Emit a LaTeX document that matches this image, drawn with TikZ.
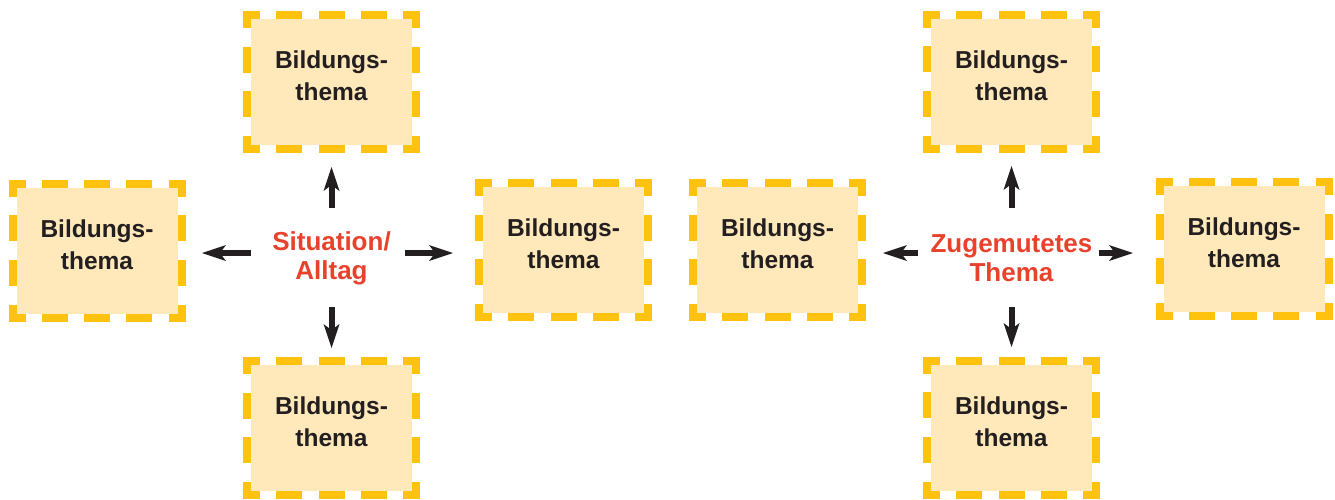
\documentclass[tikz,border=0pt]{standalone}
\usepackage{fontspec}
\setmainfont{Liberation Sans}
\usetikzlibrary{arrows.meta}
\definecolor{boxfill}{HTML}{FFE8BA}
\definecolor{boxdash}{HTML}{FFC20E}
\definecolor{darktext}{HTML}{231F20}
\definecolor{redtext}{HTML}{E8412C}
\tikzset{
  bbox/.style={fill=boxfill, minimum width=161pt, minimum height=126pt, inner sep=0pt, outer sep=0pt},
  btext/.style={align=center, text=darktext, inner sep=0pt, font=\fontsize{24.5}{32}\selectfont\bfseries},
  hubtext/.style={align=center, text=redtext, inner sep=0pt, font=\fontsize{26}{29}\selectfont\bfseries},
  dashH/.style={draw=boxdash, line width=8pt, dash pattern=on 26pt off 16.25pt, dash phase=9pt},
  dashV/.style={draw=boxdash, line width=8pt, dash pattern=on 26pt off 18.67pt, dash phase=9pt},
  arr/.style={draw=darktext, line width=6pt, -{Stealth[length=24pt,width=16pt,inset=6pt,line width=0pt]}},
}
\newcommand\bframe[1]{%
  \draw[dashH] ([shift={(-8pt,4pt)}]#1.north west) -- ([shift={(8pt,4pt)}]#1.north east);
  \draw[dashH] ([shift={(-8pt,-4pt)}]#1.south west) -- ([shift={(8pt,-4pt)}]#1.south east);
  \draw[dashV] ([shift={(-4pt,8pt)}]#1.north west) -- ([shift={(-4pt,-8pt)}]#1.south west);
  \draw[dashV] ([shift={(4pt,8pt)}]#1.north east) -- ([shift={(4pt,-8pt)}]#1.south east);
}
\newcommand\bthema[2]{%
  \node[bbox] (#1) at #2 {};
  \bframe{#1}
  \node[btext] (t#1) at ([yshift=6pt]#1.center) {Bildungs-\\thema};
}
\begin{document}
\begin{tikzpicture}[x=1pt,y=-1pt]
\useasboundingbox (0,0) rectangle (1335,499);
% left group
\bthema{b1}{(331.5,82)}
\bthema{b2}{(97,250.5)}
\bthema{b3}{(563.5,250)}
\bthema{b4}{(331.5,428)}
\node[hubtext] (c1) at (331.5,258) {Situation/\\Alltag};
\draw[arr, shorten <=50pt, shorten >=22pt] (c1.center) -- (b1.south);
\draw[arr, shorten <=49pt, shorten >=17pt] (c1.center) -- (b4.north);
\draw[arr, shorten <=80.5pt, shorten >=24.5pt] ([yshift=5pt]c1.center) -- ([yshift=-2.5pt]b2.east);
\draw[arr, shorten <=73.5pt, shorten >=30pt] ([yshift=5pt]c1.center) -- ([yshift=-3pt]b3.west);
% right group
\bthema{b5}{(777.5,250)}
\bthema{b6}{(1011.5,81.5)}
\bthema{b7}{(1244,249)}
\bthema{b8}{(1011.5,427.5)}
\node[hubtext] (c2) at (1011.5,258) {Zugemutetes\\Thema};
\draw[arr, shorten <=50pt, shorten >=21.5pt] (c2.center) -- (b6.south);
\draw[arr, shorten <=49pt, shorten >=17.5pt] (c2.center) -- (b8.north);
\draw[arr, shorten <=93.5pt, shorten >=25pt] ([yshift=5pt]c2.center) -- ([yshift=-3pt]b5.east);
\draw[arr, shorten <=87.5pt, shorten >=30.5pt] ([yshift=5pt]c2.center) -- ([yshift=-4pt]b7.west);
\end{tikzpicture}
\end{document}
